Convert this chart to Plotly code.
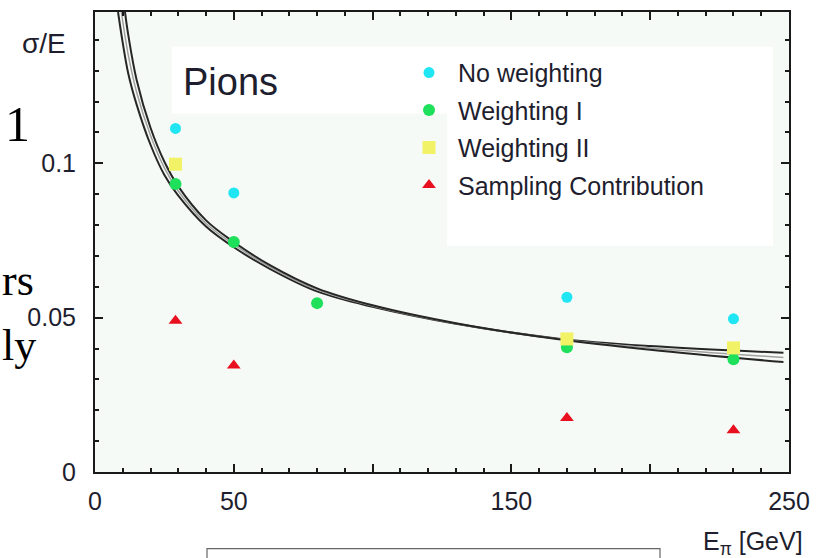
import plotly.graph_objects as go

# ---- data ----
E_no = [29, 50, 170, 230]
sig_no = [0.1113, 0.0904, 0.0566, 0.0496]

E_w1 = [29, 50, 80, 170, 230]
sig_w1 = [0.0933, 0.0745, 0.0547, 0.0404, 0.0365]

E_w2 = [29, 170, 230]
sig_w2 = [0.0997, 0.0431, 0.0402]

E_samp = [29, 50, 170, 230]
sig_samp = [0.049, 0.0345, 0.0175, 0.0135]

# fit curves
E_fitA = [8.3, 10, 12, 15, 20, 25, 30, 40, 50, 63, 80, 100, 130, 167, 200, 248]
sig_fitA = [0.149, 0.139, 0.129, 0.119, 0.106, 0.0962, 0.0895, 0.0795, 0.0728, 0.0658,
            0.0585, 0.0535, 0.0480, 0.0432, 0.0408, 0.0386]
E_fitM = [9.5, 12, 15, 20, 25, 30, 40, 50, 63, 80, 100, 130, 167, 200, 248]
sig_fitM = [0.149, 0.135, 0.123, 0.109, 0.0985, 0.091, 0.0805, 0.0737, 0.0664, 0.059,
            0.0538, 0.0481, 0.0431, 0.0402, 0.0371]
E_fitB = [10.8, 12, 15, 20, 25, 30, 40, 50, 63, 80, 100, 130, 167, 200, 248]
sig_fitB = [0.149, 0.1415, 0.127, 0.1115, 0.1005, 0.0925, 0.0815, 0.0745, 0.067, 0.0595,
            0.054, 0.0482, 0.043, 0.0396, 0.0356]

x_labelvals = [0, 50, 150, 250]
x_labeltext = ["0", "50", "150", "250"]
x_longticks = [100, 200]
y_tickvals = [0, 0.05, 0.1]
y_ticktext = ["0", "0.05", "0.1"]

W, H = 825, 558
L, R, T, B = 95, 36, 10, 86
pw, ph = W - L - R, H - T - B


def px(xp):
    return (xp - L) / pw


def py(yp):
    return (H - B - yp) / ph


fig = go.Figure()

for xs, ys, col, w in [(E_fitA, sig_fitA, "#262626", 2),
                       (E_fitM, sig_fitM, "#a0a0a0", 1.5),
                       (E_fitB, sig_fitB, "#262626", 2)]:
    fig.add_trace(go.Scatter(x=xs, y=ys, mode="lines", line=dict(color=col, width=w, shape="spline"),
                             showlegend=False, hoverinfo="skip"))

fig.add_trace(go.Scatter(x=E_no, y=sig_no, mode="markers", name="No weighting", legendgroup="a",
                         legendrank=1, marker=dict(symbol="circle", size=11, color="#1fe6f2")))
fig.add_trace(go.Scatter(x=E_w1, y=sig_w1, mode="markers", name="Weighting I", legendgroup="b",
                         legendrank=2, marker=dict(symbol="circle", size=12, color="#1fe05a")))
fig.add_trace(go.Scatter(x=E_w2, y=sig_w2, mode="markers", name="Weighting II", legendgroup="c",
                         legendrank=3, marker=dict(symbol="square", size=13, color="#f2f266")))
fig.add_trace(go.Scatter(x=E_samp, y=sig_samp, mode="markers", name="Sampling Contribution", legendgroup="d",
                         legendrank=4, marker=dict(symbol="triangle-up", size=12, color="#e8101e")))

# helper trace on an overlaid axis that carries the long ticks at 100 and 200
fig.add_trace(go.Scatter(x=x_longticks, y=[None, None], xaxis="x2", showlegend=False, hoverinfo="skip"))

shapes = [
    dict(type="rect", xref="paper", yref="paper", x0=px(172), x1=px(447), y0=py(112), y1=py(45),
         fillcolor="white", line=dict(width=0), layer="below"),
    dict(type="rect", xref="paper", yref="paper", x0=px(447), x1=px(773), y0=py(245), y1=py(45),
         fillcolor="white", line=dict(width=0), layer="below"),
    dict(type="rect", xref="paper", yref="paper", x0=px(207), x1=px(660), y0=py(562), y1=py(549),
         fillcolor="white", line=dict(width=1.2, color="#666")),
]

ann_font = dict(family="Liberation Sans, Arial, sans-serif", color="#1e1e2e")
annotations = [
    dict(text="σ/E", x=px(20), y=py(42), xref="paper", yref="paper", xanchor="left", yanchor="middle",
         showarrow=False, font=dict(size=28, **ann_font)),
    dict(text="Pions", x=px(181), y=py(80), xref="paper", yref="paper", xanchor="left", yanchor="middle",
         showarrow=False, font=dict(size=38, **ann_font)),
    dict(text="E<sub>π</sub> [GeV]", x=px(805), y=py(543), xref="paper", yref="paper", xanchor="right",
         yanchor="middle", showarrow=False, font=dict(size=25, **ann_font)),
    dict(text="1", x=px(32), y=py(122), xref="paper", yref="paper", xanchor="right", yanchor="middle",
         showarrow=False, font=dict(size=50, family="Liberation Serif, serif", color="black")),
    dict(text="rs", x=px(0), y=py(280), xref="paper", yref="paper", xanchor="left", yanchor="middle",
         showarrow=False, font=dict(size=44, family="Liberation Serif, serif", color="black")),
    dict(text="ly", x=px(0), y=py(345), xref="paper", yref="paper", xanchor="left", yanchor="middle",
         showarrow=False, font=dict(size=44, family="Liberation Serif, serif", color="black")),
]

tick_font = dict(size=25, family="Liberation Sans, Arial, sans-serif", color="#1e1e2e")
axis_common = dict(showline=True, linecolor="#1a1a1a", linewidth=2, mirror="ticks", ticks="inside",
                   tickcolor="#1a1a1a", tickwidth=1.5, showgrid=False, zeroline=False, tickfont=tick_font)

fig.update_layout(
    width=W, height=H,
    margin=dict(l=L, r=R, t=T, b=B),
    paper_bgcolor="white",
    plot_bgcolor="#f6faf6",
    shapes=shapes,
    annotations=annotations,
    legend=dict(x=px(400), y=py(48), xanchor="left", yanchor="top", bgcolor="rgba(0,0,0,0)",
                font=dict(size=25, family="Liberation Sans, Arial, sans-serif", color="#1e1e2e"),
                tracegroupgap=2, traceorder="grouped", itemwidth=48),
    xaxis=dict(range=[0, 250], tickvals=x_labelvals, ticktext=x_labeltext, ticklen=8,
               minor=dict(dtick=10, ticklen=4, ticks="inside", tickcolor="#1a1a1a"),
               ticklabelstandoff=6, **axis_common),
    xaxis2=dict(range=[0, 250], overlaying="x", side="bottom", tickvals=x_longticks, ticks="inside",
                ticklen=8, tickwidth=1.5, tickcolor="#1a1a1a", showticklabels=False, showgrid=False,
                zeroline=False, showline=False, mirror="ticks"),
    yaxis=dict(range=[0, 0.149], tickvals=y_tickvals, ticktext=y_ticktext, ticklen=8,
               minor=dict(dtick=0.01, ticklen=4, ticks="inside", tickcolor="#1a1a1a"),
               ticklabelstandoff=12, **axis_common),
)

fig.write_html("out.html")
